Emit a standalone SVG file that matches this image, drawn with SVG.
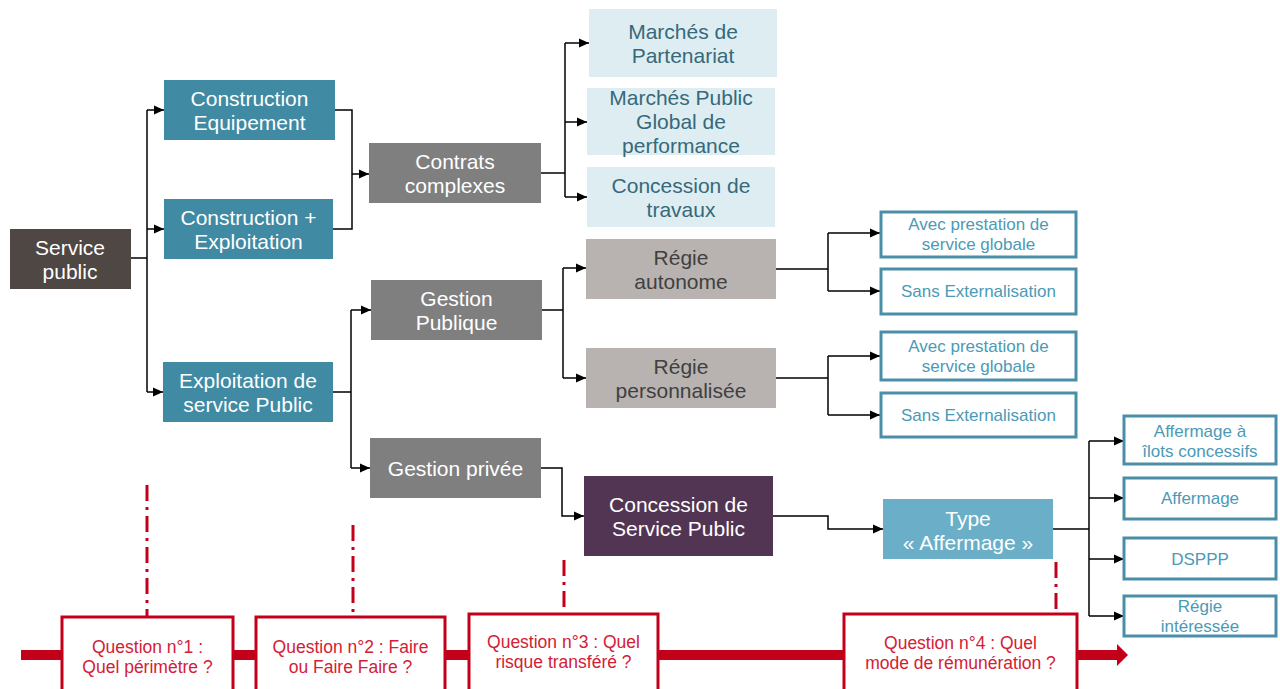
<svg xmlns="http://www.w3.org/2000/svg" width="1280" height="689" viewBox="0 0 1280 689">
<defs>
<marker id="ah" viewBox="0 0 10 10" refX="10" refY="5" markerWidth="10" markerHeight="10" markerUnits="userSpaceOnUse" orient="auto"><path d="M0,0.5 L10,5 L0,9.5 z" fill="#000"/></marker>
<style>
text{font-family:"Liberation Sans",Arial,sans-serif;text-anchor:middle;dominant-baseline:central}
.t{font-size:21px;fill:#fff}
.lb{font-size:21px;fill:#36697a}
.rg{font-size:21px;fill:#404040}
.ob{font-size:17px;fill:#4b9ab6}
.q{font-size:17.5px;fill:#d42034}
.obx{fill:#fff;stroke:#4a8fa7;stroke-width:3}
.qbx{fill:#fff;stroke:#c3001a;stroke-width:3}
.c{fill:none;stroke:#000;stroke-width:1.5}
.a{fill:none;stroke:#000;stroke-width:1.5;marker-end:url(#ah)}
.dd{fill:none;stroke:#c3001a;stroke-width:3;stroke-dasharray:16 6 3 6}
</style>
</defs>
<rect width="1280" height="689" fill="#fff"/>

<g id="connectors">
<path class="c" d="M130,258 H147" stroke-width="2.5"/>
<path class="c" d="M147,110 V392"/>
<path class="a" d="M147,110 H164"/>
<path class="a" d="M147,229 H164"/>
<path class="a" d="M147,392 H163"/>
<path class="c" d="M335,110 H352 V229 H333"/>
<path class="a" d="M352,174 H369"/>
<path class="c" d="M541,173 H565"/>
<path class="c" d="M565,43 V197"/>
<path class="a" d="M565,43 H589"/>
<path class="a" d="M565,122 H587"/>
<path class="a" d="M565,197 H587"/>
<path class="c" d="M333,392 H351"/>
<path class="c" d="M351,310 V468"/>
<path class="a" d="M351,310 H371"/>
<path class="a" d="M351,468 H370"/>
<path class="c" d="M542,310 H563"/>
<path class="c" d="M563,268 V378"/>
<path class="a" d="M563,268 H586"/>
<path class="a" d="M563,378 H586"/>
<path class="c" d="M776,269 H828"/>
<path class="c" d="M828,233 V291"/>
<path class="a" d="M828,233 H880"/>
<path class="a" d="M828,291 H880"/>
<path class="c" d="M776,378 H828"/>
<path class="c" d="M828,356 V415"/>
<path class="a" d="M828,356 H880"/>
<path class="a" d="M828,415 H880"/>
<path class="a" d="M541,468 H562 V516 H584"/>
<path class="a" d="M773,516 H828 V529 H883"/>
<path class="c" d="M1053,529 H1089"/>
<path class="c" d="M1089,441 V616"/>
<path class="a" d="M1089,441 H1124"/>
<path class="a" d="M1089,498 H1124"/>
<path class="a" d="M1089,559 H1124"/>
<path class="a" d="M1089,616 H1124"/>
</g>

<g id="timeline">
<rect x="21" y="650" width="1097" height="10" fill="#c3001a"/>
<polygon points="1117,644 1128,655 1117,666" fill="#c3001a"/>
<path class="dd" d="M147,485 V617"/>
<path class="dd" d="M353,525 V617"/>
<path class="dd" d="M564,560 V614"/>
<path class="dd" d="M1056,562 V614"/>
</g>

<g id="n-service-public"><rect x="10" y="229" width="121" height="60" fill="#4e4743"/><text class="t" x="70" y="247">Service</text><text class="t" x="70" y="271">public</text></g>
<g id="n-construction-equipement"><rect x="164" y="80" width="171" height="60" fill="#408aa3"/><text class="t" x="249.5" y="98">Construction</text><text class="t" x="249.5" y="122">Equipement</text></g>
<g id="n-construction-exploitation"><rect x="164" y="199" width="169" height="60" fill="#408aa3"/><text class="t" x="248.5" y="217">Construction +</text><text class="t" x="248.5" y="241">Exploitation</text></g>
<g id="n-exploitation"><rect x="163" y="362" width="170" height="60" fill="#408aa3"/><text class="t" x="248" y="380">Exploitation de</text><text class="t" x="248" y="404">service Public</text></g>
<g id="n-contrats"><rect x="369" y="143" width="172" height="60" fill="#7f7f7f"/><text class="t" x="455" y="161">Contrats</text><text class="t" x="455" y="185">complexes</text></g>
<g id="n-marches-partenariat"><rect x="589" y="9" width="188" height="68" fill="#deedf2"/><text class="lb" x="683" y="31">Marchés de</text><text class="lb" x="683" y="55">Partenariat</text></g>
<g id="n-mpgp"><rect x="587" y="88" width="188" height="67" fill="#deedf2"/><text class="lb" x="681" y="97">Marchés  Public</text><text class="lb" x="681" y="121">Global de</text><text class="lb" x="681" y="145">performance</text></g>
<g id="n-concession-travaux"><rect x="587" y="167" width="188" height="60" fill="#deedf2"/><text class="lb" x="681" y="185">Concession de</text><text class="lb" x="681" y="209">travaux</text></g>
<g id="n-gestion-publique"><rect x="371" y="280" width="171" height="60" fill="#7f7f7f"/><text class="t" x="456.5" y="298">Gestion</text><text class="t" x="456.5" y="322">Publique</text></g>
<g id="n-gestion-privee"><rect x="370" y="438" width="171" height="60" fill="#7f7f7f"/><text class="t" x="455.5" y="468">Gestion privée</text></g>
<g id="n-regie-autonome"><rect x="586" y="239" width="190" height="60" fill="#b8b3b0"/><text class="rg" x="681" y="257">Régie</text><text class="rg" x="681" y="281">autonome</text></g>
<g id="n-regie-perso"><rect x="586" y="348" width="190" height="60" fill="#b8b3b0"/><text class="rg" x="681" y="366">Régie</text><text class="rg" x="681" y="390">personnalisée</text></g>
<g id="n-concession-sp"><rect x="584" y="476" width="189" height="80" fill="#523552"/><text class="t" x="678.5" y="504">Concession de</text><text class="t" x="678.5" y="528">Service Public</text></g>
<g id="n-type-affermage"><rect x="883" y="499" width="170" height="60" fill="#6aafc7"/><text class="t" x="968" y="518">Type</text><text class="t" x="968" y="542">« Affermage »</text></g>
<g id="n-avec1"><rect class="obx" x="881" y="212" width="195" height="45"/><text class="ob" x="978.5" y="224">Avec prestation de</text><text class="ob" x="978.5" y="244">service globale</text></g>
<g id="n-sans1"><rect class="obx" x="881" y="269" width="195" height="45"/><text class="ob" x="978.5" y="291">Sans Externalisation</text></g>
<g id="n-avec2"><rect class="obx" x="881" y="332" width="195" height="48"/><text class="ob" x="978.5" y="346">Avec prestation de</text><text class="ob" x="978.5" y="366">service globale</text></g>
<g id="n-sans2"><rect class="obx" x="881" y="393" width="195" height="44"/><text class="ob" x="978.5" y="415">Sans Externalisation</text></g>
<g id="n-ilots"><rect class="obx" x="1124" y="416" width="152" height="48"/><text class="ob" x="1200" y="431">Affermage à</text><text class="ob" x="1200" y="451">îlots concessifs</text></g>
<g id="n-affermage"><rect class="obx" x="1124" y="478" width="152" height="41"/><text class="ob" x="1200" y="498">Affermage</text></g>
<g id="n-dsppp"><rect class="obx" x="1124" y="538" width="152" height="41"/><text class="ob" x="1200" y="559">DSPPP</text></g>
<g id="n-regie-interessee"><rect class="obx" x="1124" y="596" width="152" height="40"/><text class="ob" x="1200" y="606">Régie</text><text class="ob" x="1200" y="626">intéressée</text></g>

<g id="q1"><rect class="qbx" x="62" y="617" width="171" height="80"/><text class="q" x="147.5" y="647">Question n°1 :</text><text class="q" x="147.5" y="667">Quel périmètre ?</text></g>
<g id="q2"><rect class="qbx" x="256" y="617" width="189" height="80"/><text class="q" x="350.5" y="647">Question n°2 : Faire</text><text class="q" x="350.5" y="667">ou Faire Faire ?</text></g>
<g id="q3"><rect class="qbx" x="469" y="614" width="189" height="80"/><text class="q" x="563.5" y="642">Question n°3 : Quel</text><text class="q" x="563.5" y="662">risque transféré ?</text></g>
<g id="q4"><rect class="qbx" x="844" y="614" width="233" height="80"/><text class="q" x="960.5" y="643">Question n°4 : Quel</text><text class="q" x="960.5" y="663">mode de rémunération ?</text></g>
</svg>
